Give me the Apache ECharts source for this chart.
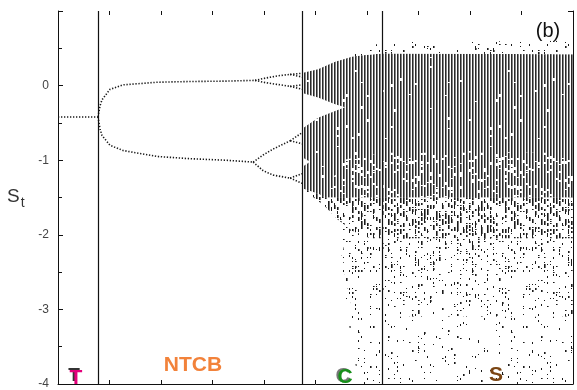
<!DOCTYPE html>
<html><head><meta charset="utf-8">
<script src="https://cdn.jsdelivr.net/npm/echarts@6/dist/echarts.min.js"></script>
<style>html,body{margin:0;padding:0;background:#fff}#c{width:577px;height:390px}</style>
</head><body><div id="c"></div>
<script>
// ---- data (x: control parameter, y: S_t) ----
const period1 = [[-1,-0.42],[-0.223,-0.42]];
const p2Upper = [[-0.223,-0.42],[-0.184,-0.27],[-0.145,-0.19],[0.01,-0.05],[0.263,0.01],[0.923,0.045],[1.565,0.055],[2.245,0.06],[2.827,0.07]];
const p2Lower = [[-0.223,-0.42],[-0.184,-0.58],[-0.145,-0.67],[0.01,-0.80],[0.263,-0.87],[0.923,-0.95],[1.565,-0.98],[2.245,-1.0],[2.789,-1.025]];
const p4A = [[2.827,0.07],[3.022,0.10],[3.313,0.135],[3.508,0.15]];
const p4B = [[2.827,0.07],[3.022,0.04],[3.313,0.01],[3.508,-0.01]];
const p4C = [[2.789,-1.025],[2.983,-0.93],[3.177,-0.85],[3.508,-0.74]];
const p4D = [[2.789,-1.025],[2.983,-1.14],[3.177,-1.20],[3.508,-1.24]];
const p8A1 = [[3.508,0.15],[3.741,0.165]], p8A2 = [[3.508,0.15],[3.741,0.115]];
const p8B1 = [[3.508,-0.01],[3.741,0.01]], p8B2 = [[3.508,-0.01],[3.741,-0.05]];
const p8C1 = [[3.508,-0.74],[3.741,-0.63]], p8C2 = [[3.508,-0.74],[3.741,-0.78]];
const p8D1 = [[3.508,-1.24],[3.741,-1.18]], p8D2 = [[3.508,-1.24],[3.741,-1.31]];

// chaotic-band envelopes
const denseTop    = [[3.741,0.17],[4.051,0.22],[4.382,0.32],[4.712,0.39],[4.965,0.41],[5.295,0.43],[9,0.42]];
const topDotsTop  = [[3.741,0.17],[4.051,0.22],[4.382,0.32],[4.712,0.42],[4.965,0.50],[5.295,0.58],[9,0.60]];
const solidBottom = [[3.741,-1.38],[4.051,-1.45],[4.188,-1.5],[9,-1.5]];
const fleckTop    = [[4.188,-1.5],[4.5,-1.0],[5.3,-0.9],[9,-0.9]];
const fleckBottom = [[4.188,-1.5],[9,-1.5]];
const gapUpper    = [[3.741,-0.10],[4.051,-0.16],[4.382,-0.25],[4.576,-0.29]];
const gapLower    = [[3.741,-0.58],[4.051,-0.43],[4.382,-0.34],[4.576,-0.29]];
const notchUpper  = [[3.741,-0.96],[3.896,-1.02]];
const notchLower  = [[3.741,-1.09],[3.896,-1.02]];
const brokenBottom= [[3.741,-1.38],[4.188,-1.62],[4.44,-1.80],[4.712,-1.95],[5.06,-2.05],[9,-2.05]];
const dotsABottom = [[3.741,-1.38],[4.188,-1.62],[4.44,-1.80],[4.576,-2.3],[4.712,-2.5],[9,-2.5]];
const dotsBBottom = [[3.741,-1.38],[4.188,-1.62],[4.44,-1.80],[4.576,-2.6],[4.712,-3.0],[4.906,-3.1],[9,-3.1]];
const sparseBottom= [[3.741,-1.38],[4.188,-1.62],[4.44,-1.80],[4.576,-2.8],[4.712,-3.5],[4.85,-4],[9,-4]];

const regimeBounds = [-0.223, 3.741, 5.295];

// ---- textures (style only) ----
function hash(a,b,s){let h=Math.imul(a,374761393)^Math.imul(b,668265263)^Math.imul(s+1,1274126177);h=Math.imul(h^(h>>>13),1103515245);h^=h>>>16;return (h>>>0)/4294967296;}
const TW=153, TH=131;
function mk(){const c=document.createElement('canvas');c.width=TW;c.height=TH;const g=c.getContext('2d');g.fillStyle='#fff';g.fillRect(0,0,TW,TH);return [c,g];}
function stripeTile(q,seed){const [c,g]=mk();for(let k=0;k<TW/3;k++){const x=3*k;g.fillStyle='#2a2a2a';g.fillRect(x+1,0,1,TH);g.fillStyle='#858585';g.fillRect(x+2,0,1,TH);
  g.fillStyle='#fff';for(let y=0;y<TH;y++){if(hash(k,y,seed)<q){const l=1+Math.floor(hash(y,k,seed+7)*3);g.fillRect(x+1,y,2,l);}}}return {image:c,repeat:'repeat'};}
function dotTile(p,seed,maxLen,wide){const [c,g]=mk();for(let k=0;k<TW/3;k++){const x=3*k;for(let y=0;y<TH;y+=2){if(hash(k,y,seed)<p){const l=1+Math.floor(hash(y,k,seed+3)*maxLen);
  const w2 = hash(k+11,y,seed+5)<wide;g.fillStyle='#1a1a1a';g.fillRect(x+1,y,1,l);if(w2){g.fillStyle='#777';g.fillRect(x+2,y,1,l);}}}}return {image:c,repeat:'repeat'};}

const fills = {
  dense: stripeTile(0.006,1),
  fleck: stripeTile(0.06,2),
  broken: dotTile(0.42,3,4,0.8),
  dotsA: dotTile(0.26,4,2,0.4),
  dotsB: dotTile(0.17,5,2,0.3),
  sparse: dotTile(0.075,6,2,0.25),
  top: dotTile(0.13,7,2,0.3),
  white: '#fff'
};

function region(upper, lower, fill){
  return {type:'custom', silent:true, data:[[0,0]], clip:true,
    renderItem:(params, api)=>{
      const pts = upper.map(p=>api.coord(p)).concat(lower.slice().reverse().map(p=>api.coord(p)));
      return {type:'polygon', shape:{points:pts}, style:{fill:fill, stroke:null}};
    }};
}
function branch(d){
  return {type:'line', data:d, showSymbol:false, silent:true, lineStyle:{color:'#1a1a1a', width:1.6, type:[1.3,1.7]}};
}

const chart = echarts.init(document.getElementById('c'), null, {renderer:'canvas'});
const FONT = '"Liberation Sans", Arial, sans-serif';
const series = [
  region(denseTop, solidBottom, fills.dense),
  region(fleckTop, fleckBottom, fills.fleck),
  region(gapUpper, gapLower, fills.white),
  region(notchUpper, notchLower, fills.white),
  region(solidBottom, brokenBottom, fills.broken),
  region(brokenBottom, dotsABottom, fills.dotsA),
  region(dotsABottom, dotsBBottom, fills.dotsB),
  region(dotsBBottom, sparseBottom, fills.sparse),
  region(topDotsTop, denseTop, fills.top),
  branch(period1), branch(p2Upper), branch(p2Lower),
  branch(p4A), branch(p4B), branch(p4C), branch(p4D),
  branch(p8A1), branch(p8A2), branch(p8B1), branch(p8B2),
  branch(p8C1), branch(p8C2), branch(p8D1), branch(p8D2),
  {type:'line', data:[], silent:true,
   markLine:{silent:true, symbol:['none','none'], label:{show:false},
     lineStyle:{color:'#111', width:1.2, type:'solid'},
     data: regimeBounds.map(v=>({xAxis:v}))}}
];

chart.setOption({
  animation:false,
  backgroundColor:'#fff',
  grid:{left:58, right:4, top:11, bottom:2, containLabel:false},
  xAxis:[
    {type:'value', position:'bottom', min:-1, max:9, interval:1,
     axisLine:{show:true, onZero:false, lineStyle:{color:'#111', width:1}},
     axisTick:{show:true, inside:true, length:4, lineStyle:{color:'#111'}},
     axisLabel:{show:false}, splitLine:{show:false}},
    {type:'value', position:'top', min:-1, max:9, interval:1,
     axisLine:{show:false, onZero:false},
     axisTick:{show:true, inside:true, length:4, lineStyle:{color:'#111'}},
     axisLabel:{show:false}, splitLine:{show:false}}
  ],
  yAxis:[
    {type:'value', position:'left', min:-4, max:1, interval:1,
     axisLine:{show:true, onZero:false, lineStyle:{color:'#111', width:1}},
     axisTick:{show:true, inside:true, length:5, lineStyle:{color:'#111'}},
     minorTick:{show:true, splitNumber:2, length:4, lineStyle:{color:'#111'}},
     axisLabel:{show:true, margin:9, color:'#444', fontSize:12, fontFamily:FONT,
       formatter:v=> v===1 ? '' : String(v)},
     splitLine:{show:false}},
    {type:'value', position:'right', min:-4, max:1, interval:1,
     axisLine:{show:true, onZero:false, lineStyle:{color:'#111', width:1}},
     axisTick:{show:true, inside:true, length:5, lineStyle:{color:'#111'}},
     minorTick:{show:true, splitNumber:2, length:4, lineStyle:{color:'#111'}},
     axisLabel:{show:false}, splitLine:{show:false}}
  ],
  series: series,
  graphic:[
    {type:'text', z:100, x:7, y:197, silent:true, style:{text:'{s|S}{t|t}', fill:'#333', verticalAlign:'middle',
      rich:{s:{fontSize:19, fontFamily:FONT, fill:'#333'}, t:{fontSize:14, fontFamily:FONT, fill:'#333', padding:[12,0,0,1]}}}},
    {type:'text', z:100, x:74, y:376, silent:true, style:{text:'T', fill:'#333', font:'bold 19px '+FONT, align:'center', verticalAlign:'middle'}},
    {type:'text', z:101, x:76, y:378, silent:true, style:{text:'T', fill:'#e3007b', font:'bold 21px '+FONT, align:'center', verticalAlign:'middle'}},
    {type:'text', z:100, x:193, y:365, silent:true, style:{text:'NTCB', fill:'#f2823a', font:'bold 21px '+FONT, align:'center', verticalAlign:'middle'}},
    {type:'text', z:100, x:343, y:376, silent:true, style:{text:'C', fill:'#777', font:'bold 21px '+FONT, align:'center', verticalAlign:'middle'}},
    {type:'text', z:101, x:345, y:377, silent:true, style:{text:'C', fill:'#17901a', font:'bold 21px '+FONT, align:'center', verticalAlign:'middle'}},
    {type:'text', z:100, x:496, y:375, silent:true, style:{text:'S', fill:'#7a4412', font:'bold 21px '+FONT, align:'center', verticalAlign:'middle'}},
    {type:'text', z:100, x:548, y:31, silent:true, style:{text:'(b)', fill:'#111', font:'20px '+FONT, align:'center', verticalAlign:'middle'}}
  ]
});
</script></body></html>
